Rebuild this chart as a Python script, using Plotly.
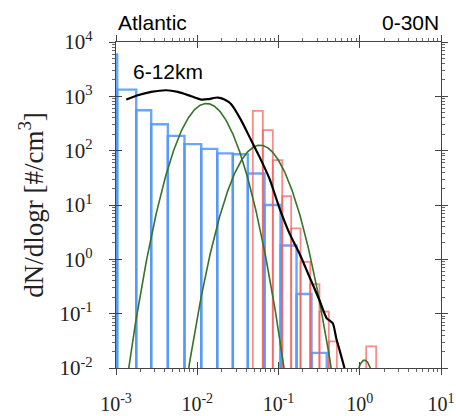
import plotly.graph_objects as go
import numpy as np

# ---- data (radius in micrometres, dN/dlogr in #/cm^3) ----
blue_edges_log = [-3.20, -2.985, -2.751, -2.567, -2.362, -2.157, -1.951, -1.754,
                  -1.562, -1.378, -1.172, -0.975, -0.778, -0.594, -0.406]
blue_values = [5900, 1330, 555, 307, 187, 132, 108, 89, 86, 38, 10, 1.8, 0.23, 0.019]

red_edges_log = [-1.316, -1.193, -1.070, -0.954, -0.844, -0.729, -0.610, -0.496,
                 -0.381, -0.282]
red_values = [540, 238, 67, 14.5, 3.7, 0.9, 0.35, 0.109, 0.031]
red_extra_edges_log = [0.079, 0.202]
red_extra_value = [0.025]

# lognormal modes: (peak dN/dlogr, median radius log10, log10 sigma)
mode_peaks = [738, 126, 0.014]
mode_center_log = [-1.887, -1.228, 0.058]
mode_width_log = [0.2023, 0.2018, 0.087]

fit_r_log = [-2.874, -2.732, -2.567, -2.382, -2.239, -2.074, -1.951, -1.870, -1.747,
             -1.665, -1.582, -1.459, -1.357, -1.234, -1.111, -0.988, -0.865, -0.742,
             -0.619, -0.497, -0.406, -0.332, -0.290, -0.249, -0.188]
fit_n_log = [2.941, 3.020, 3.081, 3.112, 3.081, 3.002, 2.941, 2.947, 2.978,
             2.941, 2.855, 2.558, 2.254, 1.886, 1.485, 0.943, 0.478, 0.108,
             -0.322, -0.748, -1.085, -1.176, -1.447, -1.667, -2.0]

x_tick_vals = [1e-3, 1e-2, 1e-1, 1e0, 1e1]
x_tick_text = ["10<sup>-3</sup>", "10<sup>-2</sup>", "10<sup>-1</sup>", "10<sup>0</sup>", "10<sup>1</sup>"]
y_tick_vals = [1e-2, 1e-1, 1e0, 1e1, 1e2, 1e3, 1e4]
y_tick_text = ["10<sup>-2</sup>", "10<sup>-1</sup>", "10<sup>0</sup>", "10<sup>1</sup>",
               "10<sup>2</sup>", "10<sup>3</sup>", "10<sup>4</sup>"]

BASE = 1e-3  # below axis floor, clipped


def outline(edges_log, values):
    xs, ys = [], []
    for i, v in enumerate(values):
        x0, x1 = 10 ** edges_log[i], 10 ** edges_log[i + 1]
        xs += [x0, x0, x1, x1, None]
        ys += [BASE, v, v, BASE, None]
    return xs, ys


fig = go.Figure()

bx, by = outline(blue_edges_log, blue_values)
fig.add_trace(go.Scatter(x=bx, y=by, mode="lines",
                         line=dict(color="rgba(80,150,250,0.85)", width=2.4),
                         hoverinfo="skip", showlegend=False))

rx, ry = outline(red_edges_log, red_values)
ex, ey = outline(red_extra_edges_log, red_extra_value)
fig.add_trace(go.Scatter(x=rx + ex, y=ry + ey, mode="lines",
                         line=dict(color="rgba(250,90,90,0.7)", width=1.8),
                         hoverinfo="skip", showlegend=False))

for pk, c, s in zip(mode_peaks, mode_center_log, mode_width_log):
    lr = np.linspace(c - 5 * s, c + 5 * s, 300)
    n = pk * np.exp(-(lr - c) ** 2 / (2 * s ** 2))
    fig.add_trace(go.Scatter(x=10 ** lr, y=n, mode="lines",
                             line=dict(color="rgb(55,115,40)", width=1.6),
                             hoverinfo="skip", showlegend=False))

fig.add_trace(go.Scatter(x=[10 ** v for v in fit_r_log], y=[10 ** v for v in fit_n_log],
                         mode="lines", line=dict(color="black", width=2.2, shape="spline", smoothing=0.6),
                         hoverinfo="skip", showlegend=False))

# invisible trace for overlay (inside ticks) axes
fig.add_trace(go.Scatter(x=[1e-2], y=[1], xaxis="x2", yaxis="y2", mode="markers",
                         marker=dict(opacity=0), hoverinfo="skip", showlegend=False))

serif = "Liberation Serif"
sans = "Liberation Sans"

fig.update_layout(
    width=456, height=416,
    margin=dict(l=116, r=15, t=42, b=48),
    paper_bgcolor="white", plot_bgcolor="white",
    showlegend=False,
    xaxis=dict(type="log", range=[-3, 1], showgrid=False, zeroline=False, automargin=False,
               showline=True, linecolor="#444", linewidth=1.2, mirror="ticks",
               ticks="outside", ticklen=6, tickwidth=1, tickcolor="#444",
               tickvals=x_tick_vals, ticktext=x_tick_text,
               tickfont=dict(family=serif, size=20, color="#222"),
               ticklabelstandoff=12,
               minor=dict(ticks="outside", ticklen=3, tickcolor="#666",
                          tickvals=[m * 10 ** e for e in range(-3, 1) for m in range(2, 10)])),
    yaxis=dict(type="log", range=[-2, 4], showgrid=False, zeroline=False, automargin=False,
               showline=True, linecolor="#444", linewidth=1.2, mirror="ticks",
               ticks="outside", ticklen=6, tickwidth=1, tickcolor="#444",
               tickvals=y_tick_vals, ticktext=y_tick_text,
               tickfont=dict(family=serif, size=21, color="#222"),
               ticklabelstandoff=12,
               minor=dict(ticks="outside", ticklen=3, tickcolor="#666",
                          tickvals=[m * 10 ** e for e in range(-2, 4) for m in range(2, 10)]),
               title=dict(text="dN/dlogr [#/cm<sup>3</sup>]",
                          font=dict(family=serif, size=27, color="#222"), standoff=8)),
    xaxis2=dict(type="log", range=[-3, 1], overlaying="x", side="bottom", showgrid=False,
                zeroline=False, showline=False, mirror="ticks", ticks="inside", ticklen=6,
                automargin=False,
                tickcolor="#444", tickvals=x_tick_vals, showticklabels=False),
    yaxis2=dict(type="log", range=[-2, 4], overlaying="y", side="left", showgrid=False,
                zeroline=False, showline=False, mirror="ticks", ticks="inside", ticklen=6,
                automargin=False,
                tickcolor="#444", tickvals=y_tick_vals, showticklabels=False),
    annotations=[
        dict(text="Atlantic", xref="paper", yref="paper", x=0, y=1, xanchor="left",
             yanchor="bottom", yshift=6, showarrow=False,
             font=dict(family=sans, size=21, color="black")),
        dict(text="0-30N", xref="paper", yref="paper", x=1, y=1, xanchor="right",
             yanchor="bottom", yshift=6, showarrow=False,
             font=dict(family=sans, size=21, color="black")),
        dict(text="6-12km", xref="paper", yref="paper", x=0.045, y=0.91, xanchor="left",
             yanchor="middle", showarrow=False,
             font=dict(family=sans, size=21, color="black")),
    ],
)

fig.write_html("out.html")
